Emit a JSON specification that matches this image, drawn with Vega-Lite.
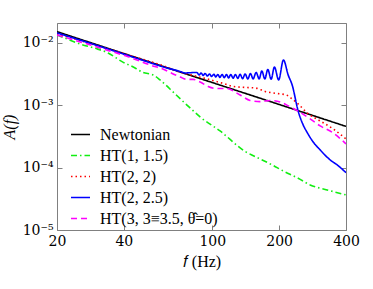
{
 "$schema": "https://vega.github.io/schema/vega-lite/v6.json",
 "width": 289, "height": 207,
 "autosize": "none",
 "padding": {"left": 57, "top": 23, "right": 27, "bottom": 59},
 "background": "white",
 "config": {
  "view": {"stroke": "#808080", "strokeWidth": 1},
  "axis": {"domain": false, "grid": false, "tickColor": "#808080", "tickSize": -5, "labelFontSize": 14, "labelColor": "black", "titleFontSize": 16, "titleFontWeight": "normal", "titleColor": "black", "labelFlush": false, "labelOverlap": false}
 },
 "data": {"values": [
  {"series": "Newtonian", "f": 20, "A": 0.0151},
  {"series": "Newtonian", "f": 40, "A": 0.00673},
  {"series": "Newtonian", "f": 100, "A": 0.00231},
  {"series": "Newtonian", "f": 200, "A": 0.001029},
  {"series": "Newtonian", "f": 400, "A": 0.000458},

  {"series": "HT(1, 1.5)", "f": 20, "A": 0.01338},
  {"series": "HT(1, 1.5)", "f": 21.06, "A": 0.01244},
  {"series": "HT(1, 1.5)", "f": 25.38, "A": 0.0096},
  {"series": "HT(1, 1.5)", "f": 29.66, "A": 0.00819},
  {"series": "HT(1, 1.5)", "f": 33.94, "A": 0.00689},
  {"series": "HT(1, 1.5)", "f": 39.24, "A": 0.005},
  {"series": "HT(1, 1.5)", "f": 44.92, "A": 0.00396},
  {"series": "HT(1, 1.5)", "f": 48.8, "A": 0.00335},
  {"series": "HT(1, 1.5)", "f": 54.12, "A": 0.00306},
  {"series": "HT(1, 1.5)", "f": 58.21, "A": 0.00254},
  {"series": "HT(1, 1.5)", "f": 68.03, "A": 0.001517},
  {"series": "HT(1, 1.5)", "f": 79.45, "A": 0.000905},
  {"series": "HT(1, 1.5)", "f": 88.13, "A": 0.00065},
  {"series": "HT(1, 1.5)", "f": 108.4, "A": 0.000387},
  {"series": "HT(1, 1.5)", "f": 140.6, "A": 0.0001818},
  {"series": "HT(1, 1.5)", "f": 164.2, "A": 0.0001378},
  {"series": "HT(1, 1.5)", "f": 186, "A": 0.0001105},
  {"series": "HT(1, 1.5)", "f": 208.5, "A": 0.0000885},
  {"series": "HT(1, 1.5)", "f": 243.6, "A": 0.0000676},
  {"series": "HT(1, 1.5)", "f": 275.8, "A": 0.0000528},
  {"series": "HT(1, 1.5)", "f": 329.1, "A": 0.0000439},
  {"series": "HT(1, 1.5)", "f": 400, "A": 0.0000365},

  {"series": "HT(2, 2)", "f": 20, "A": 0.01389},
  {"series": "HT(2, 2)", "f": 31.24, "A": 0.008755},
  {"series": "HT(2, 2)", "f": 47.3, "A": 0.005623},
  {"series": "HT(2, 2)", "f": 61.31, "A": 0.004186},
  {"series": "HT(2, 2)", "f": 70.17, "A": 0.00348},
  {"series": "HT(2, 2)", "f": 81.98, "A": 0.003003},
  {"series": "HT(2, 2)", "f": 92.84, "A": 0.002689},
  {"series": "HT(2, 2)", "f": 104.06, "A": 0.002407},
  {"series": "HT(2, 2)", "f": 114.25, "A": 0.002195},
  {"series": "HT(2, 2)", "f": 124.13, "A": 0.002001},
  {"series": "HT(2, 2)", "f": 140.58, "A": 0.001929},
  {"series": "HT(2, 2)", "f": 155.95, "A": 0.001893},
  {"series": "HT(2, 2)", "f": 172.99, "A": 0.001664},
  {"series": "HT(2, 2)", "f": 193.89, "A": 0.001546},
  {"series": "HT(2, 2)", "f": 215.09, "A": 0.001463},
  {"series": "HT(2, 2)", "f": 228.9, "A": 0.001262},
  {"series": "HT(2, 2)", "f": 243.59, "A": 0.001049},
  {"series": "HT(2, 2)", "f": 267.42, "A": 0.0007522},
  {"series": "HT(2, 2)", "f": 306.03, "A": 0.0005603},
  {"series": "HT(2, 2)", "f": 350.2, "A": 0.0004171},
  {"series": "HT(2, 2)", "f": 400, "A": 0.0002884},

  {"series": "HT(2, 2.5)", "f": 20, "A": 0.01441},
  {"series": "HT(2, 2.5)", "f": 31.24, "A": 0.008755},
  {"series": "HT(2, 2.5)", "f": 47.3, "A": 0.005419},
  {"series": "HT(2, 2.5)", "f": 61.31, "A": 0.004035},
  {"series": "HT(2, 2.5)", "f": 71.64, "A": 0.00348},
  {"series": "HT(2, 2.5)", "f": 75.45, "A": 0.003293},
  {"series": "HT(2, 2.5)", "f": 85.19, "A": 0.003354},
  {"series": "HT(2, 2.5)", "f": 87.24, "A": 0.003059},
  {"series": "HT(2, 2.5)", "f": 89.07, "A": 0.003293},
  {"series": "HT(2, 2.5)", "f": 90.94, "A": 0.003003},
  {"series": "HT(2, 2.5)", "f": 92.84, "A": 0.003233},
  {"series": "HT(2, 2.5)", "f": 94.99, "A": 0.002948},
  {"series": "HT(2, 2.5)", "f": 97.08, "A": 0.003174},
  {"series": "HT(2, 2.5)", "f": 99.32, "A": 0.002894},
  {"series": "HT(2, 2.5)", "f": 101.61, "A": 0.003139},
  {"series": "HT(2, 2.5)", "f": 103.74, "A": 0.002841},
  {"series": "HT(2, 2.5)", "f": 105.92, "A": 0.003116},
  {"series": "HT(2, 2.5)", "f": 108.25, "A": 0.002789},
  {"series": "HT(2, 2.5)", "f": 110.75, "A": 0.003116},
  {"series": "HT(2, 2.5)", "f": 113.3, "A": 0.002759},
  {"series": "HT(2, 2.5)", "f": 115.8, "A": 0.003116},
  {"series": "HT(2, 2.5)", "f": 118.47, "A": 0.002739},
  {"series": "HT(2, 2.5)", "f": 121.2, "A": 0.003116},
  {"series": "HT(2, 2.5)", "f": 124.13, "A": 0.002709},
  {"series": "HT(2, 2.5)", "f": 127.13, "A": 0.003116},
  {"series": "HT(2, 2.5)", "f": 130.33, "A": 0.002689},
  {"series": "HT(2, 2.5)", "f": 133.48, "A": 0.003139},
  {"series": "HT(2, 2.5)", "f": 136.99, "A": 0.002669},
  {"series": "HT(2, 2.5)", "f": 140.58, "A": 0.003174},
  {"series": "HT(2, 2.5)", "f": 144.58, "A": 0.00264},
  {"series": "HT(2, 2.5)", "f": 148.53, "A": 0.003233},
  {"series": "HT(2, 2.5)", "f": 152.75, "A": 0.00264},
  {"series": "HT(2, 2.5)", "f": 157.57, "A": 0.003354},
  {"series": "HT(2, 2.5)", "f": 162.55, "A": 0.00264},
  {"series": "HT(2, 2.5)", "f": 167.17, "A": 0.003545},
  {"series": "HT(2, 2.5)", "f": 172.45, "A": 0.00264},
  {"series": "HT(2, 2.5)", "f": 177.9, "A": 0.003747},
  {"series": "HT(2, 2.5)", "f": 184.1, "A": 0.002611},
  {"series": "HT(2, 2.5)", "f": 190.51, "A": 0.00411},
  {"series": "HT(2, 2.5)", "f": 198.99, "A": 0.002544},
  {"series": "HT(2, 2.5)", "f": 209.15, "A": 0.00532},
  {"series": "HT(2, 2.5)", "f": 219.6, "A": 0.003059},
  {"series": "HT(2, 2.5)", "f": 228.9, "A": 0.002115},
  {"series": "HT(2, 2.5)", "f": 243.59, "A": 0.00081},
  {"series": "HT(2, 2.5)", "f": 256.56, "A": 0.0004833},
  {"series": "HT(2, 2.5)", "f": 266.59, "A": 0.0003734},
  {"series": "HT(2, 2.5)", "f": 284.6, "A": 0.0002581},
  {"series": "HT(2, 2.5)", "f": 306.03, "A": 0.0001922},
  {"series": "HT(2, 2.5)", "f": 339.47, "A": 0.0001328},
  {"series": "HT(2, 2.5)", "f": 365.04, "A": 0.0001105},
  {"series": "HT(2, 2.5)", "f": 400, "A": 0.0000831},

  {"series": "HT(3, 3≡3.5, θ̂=0)", "f": 20, "A": 0.01338},
  {"series": "HT(3, 3≡3.5, θ̂=0)", "f": 31.24, "A": 0.008285},
  {"series": "HT(3, 3≡3.5, θ̂=0)", "f": 42.65, "A": 0.005834},
  {"series": "HT(3, 3≡3.5, θ̂=0)", "f": 52.48, "A": 0.004423},
  {"series": "HT(3, 3≡3.5, θ̂=0)", "f": 61.31, "A": 0.003678},
  {"series": "HT(3, 3≡3.5, θ̂=0)", "f": 65.93, "A": 0.003233},
  {"series": "HT(3, 3≡3.5, θ̂=0)", "f": 71.64, "A": 0.002841},
  {"series": "HT(3, 3≡3.5, θ̂=0)", "f": 77.03, "A": 0.002592},
  {"series": "HT(3, 3≡3.5, θ̂=0)", "f": 81.98, "A": 0.002592},
  {"series": "HT(3, 3≡3.5, θ̂=0)", "f": 88.15, "A": 0.002363},
  {"series": "HT(3, 3≡3.5, θ̂=0)", "f": 95.78, "A": 0.002001},
  {"series": "HT(3, 3≡3.5, θ̂=0)", "f": 104.06, "A": 0.001858},
  {"series": "HT(3, 3≡3.5, θ̂=0)", "f": 115.44, "A": 0.001858},
  {"series": "HT(3, 3≡3.5, θ̂=0)", "f": 133.48, "A": 0.001463},
  {"series": "HT(3, 3≡3.5, θ̂=0)", "f": 148.07, "A": 0.001193},
  {"series": "HT(3, 3≡3.5, θ̂=0)", "f": 164.25, "A": 0.001142},
  {"series": "HT(3, 3≡3.5, θ̂=0)", "f": 182.2, "A": 0.001193},
  {"series": "HT(3, 3≡3.5, θ̂=0)", "f": 202.11, "A": 0.001129},
  {"series": "HT(3, 3≡3.5, θ̂=0)", "f": 224.2, "A": 0.0009392},
  {"series": "HT(3, 3≡3.5, θ̂=0)", "f": 248.7, "A": 0.0007663},
  {"series": "HT(3, 3≡3.5, θ̂=0)", "f": 275.88, "A": 0.0006033},
  {"series": "HT(3, 3≡3.5, θ̂=0)", "f": 306.03, "A": 0.000466},
  {"series": "HT(3, 3≡3.5, θ̂=0)", "f": 350.2, "A": 0.0003598},
  {"series": "HT(3, 3≡3.5, θ̂=0)", "f": 400, "A": 0.0002397}
 ]},
 "layer": [
  {
   "mark": {"type": "line", "strokeWidth": 1.6, "interpolate": "monotone", "clip": true},
   "encoding": {
    "x": {"field": "f", "type": "quantitative", "scale": {"type": "log", "domain": [20, 400], "nice": false},
          "axis": {"orient": "bottom", "values": [20, 40, 100, 200, 400], "format": "d", "title": "𝑓 (Hz)", "labelFont": "DejaVu Serif", "labelFontSize": 14, "titleFont": "Times New Roman", "titleFontSize": 16, "labelPadding": 9, "titlePadding": 5}},
    "y": {"field": "A", "type": "quantitative", "scale": {"type": "log", "domain": [0.00001, 0.0208], "nice": false},
          "axis": {"orient": "left", "values": [0.00001, 0.0001, 0.001, 0.01], "labelExpr": "datum.value < 0.00005 ? '10⁻⁵' : datum.value < 0.0005 ? '10⁻⁴' : datum.value < 0.005 ? '10⁻³' : '10⁻²'", "labelFont": "DejaVu Serif", "labelFontSize": 14, "title": "A(f)", "titleFont": "Times New Roman", "titleFontSize": 16, "titleFontStyle": "italic", "labelPadding": 9, "titlePadding": 5}},
    "color": {"field": "series", "type": "nominal",
              "scale": {"domain": ["Newtonian", "HT(1, 1.5)", "HT(2, 2)", "HT(2, 2.5)", "HT(3, 3≡3.5, θ̂=0)"], "range": ["#000000", "#11ee11", "#ff0000", "#0000ff", "#ff00ff"]},
              "legend": {"title": null, "orient": "none", "legendX": 13, "legendY": 101, "padding": 0, "symbolType": "stroke", "symbolSize": 361, "symbolStrokeWidth": 1.6, "labelFont": "Times New Roman", "labelFontSize": 16, "labelColor": "black", "labelOffset": 9, "rowPadding": 2, "labelLimit": 300}},
    "strokeDash": {"field": "series", "type": "nominal",
              "scale": {"domain": ["Newtonian", "HT(1, 1.5)", "HT(2, 2)", "HT(2, 2.5)", "HT(3, 3≡3.5, θ̂=0)"], "range": [[1, 0], [6, 3, 1.5, 3], [1.5, 3], [1, 0], [6, 4]]}}
   }
  },
  {
   "mark": {"type": "line", "opacity": 0},
   "encoding": {
    "x": {"field": "f", "type": "quantitative", "scale": {"type": "log", "domain": [20, 400], "nice": false},
          "axis": {"orient": "top", "values": [20, 40, 100, 200, 400], "labels": false, "title": null}},
    "y": {"field": "A", "type": "quantitative", "scale": {"type": "log", "domain": [0.00001, 0.0208], "nice": false},
          "axis": {"orient": "right", "values": [0.00001, 0.0001, 0.001, 0.01], "labels": false, "title": null}},
    "detail": {"field": "series", "type": "nominal"}
   }
  }
 ],
 "resolve": {"axis": {"x": "independent", "y": "independent"}}
}
